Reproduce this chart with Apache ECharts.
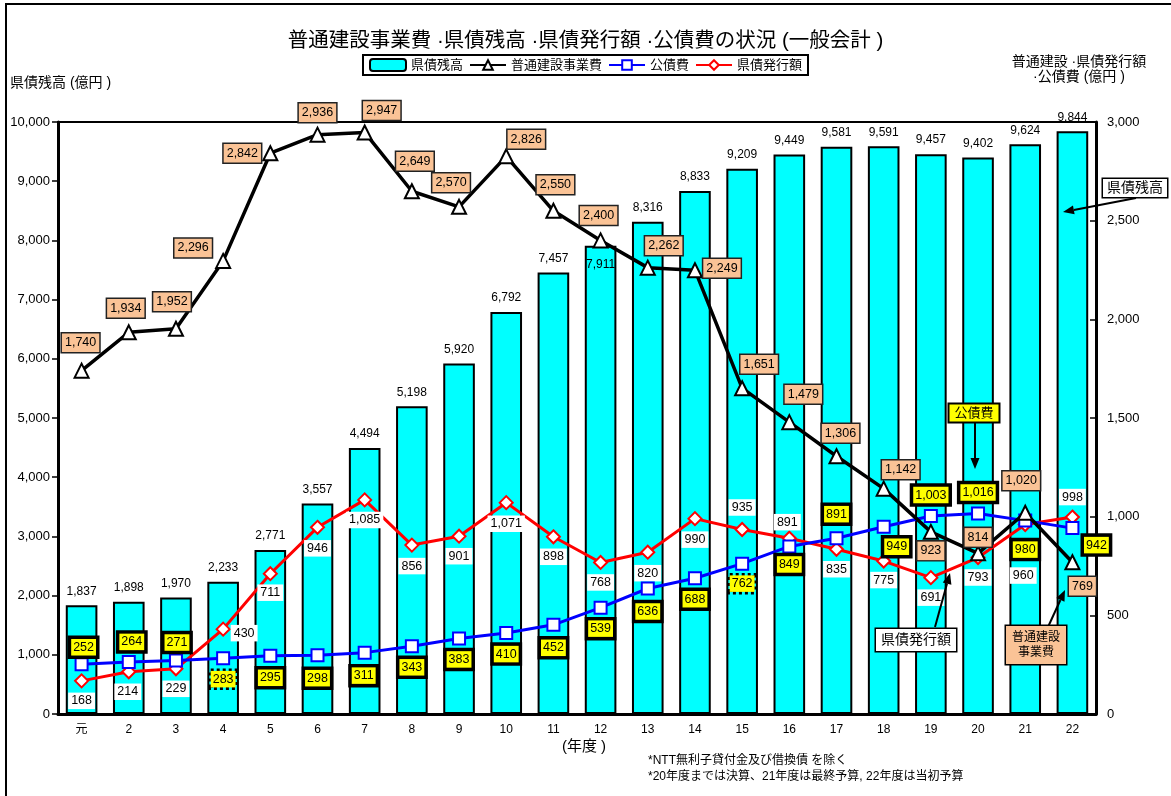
<!DOCTYPE html>
<html><head><meta charset="utf-8">
<script src="https://cdn.jsdelivr.net/npm/echarts@6/dist/echarts.min.js"></script>
<style>html,body{margin:0;padding:0;background:#fff}#c{width:1171px;height:796px}</style>
</head><body><div id="c"></div>
<script>
// ---- data ----
const years = ['元','2','3','4','5','6','7','8','9','10','11','12','13','14','15','16','17','18','19','20','21','22'];
const debtBalance  = [1837,1898,1970,2233,2771,3557,4494,5198,5920,6792,7457,7911,8316,8833,9209,9449,9581,9591,9457,9402,9624,9844];
const construction = [1740,1934,1952,2296,2842,2936,2947,2649,2570,2826,2550,2400,2262,2249,1651,1479,1306,1142,923,814,1020,769];
const bondService  = [252,264,271,283,295,298,311,343,383,410,452,539,636,688,762,849,891,949,1003,1016,980,942];
const bondIssue    = [168,214,229,430,711,946,1085,856,901,1071,898,768,820,990,935,891,835,775,691,793,960,998];
const leftAxisRange  = [0, 10000, 1000];
const rightAxisRange = [0, 3000, 500];

// ---- label placement (pixel offsets from each point) ----
const constructionLabelOffset = [[-1,-28],[-3,-24],[-4,-27],[-30,-13],[-28,0],[0,-22],[17,-22],[3,-30],[-8,-24],[20,-17],[2,-26],[-2,-25],[16,-22],[27,-2],[17,-24],[14,-28],[4,-23],[17,-19],[0,19],[0,-16],[-4,-32],[10,24]];
const bondServiceLabelOffset = [[2,-17],[3,-20],[1,-18],[0,21],[0,22],[0,23],[-1,23],[0,21],[0,21],[0,21],[0,23],[0,21],[0,23],[0,21],[0,20],[0,18],[0,-24],[13,20],[0,-21],[0,-21],[0,29],[24,17]];
const bondServiceDashed = [3,14];
const bondIssueLabelOffset = [[0,20],[-1,20],[0,20],[21,4],[0,19],[0,21],[0,20],[0,21],[0,20],[0,21],[0,20],[0,20],[0,21],[0,21],[0,-22],[-2,-16],[0,20],[0,19],[0,20],[0,20],[-2,51],[0,-20]];
const balanceInsideIdx = [11];

const FONT = '"Liberation Sans", Arial, "Noto Sans CJK JP", sans-serif';
const comma = v => String(v).replace(/\B(?=(\d{3})+(?!\d))/g, ',');

function arrow(x1, y1, x2, y2) {
  const ang = Math.atan2(y2 - y1, x2 - x1), L = 11, W = 4.5;
  const bx = x2 - L * Math.cos(ang), by = y2 - L * Math.sin(ang);
  const px = -Math.sin(ang) * W, py = Math.cos(ang) * W;
  return [
    {type:'line', z:100, shape:{x1, y1, x2:bx, y2:by}, style:{stroke:'#000', lineWidth:2}},
    {type:'polygon', z:100, shape:{points:[[x2,y2],[bx+px,by+py],[bx-px,by-py]]}, style:{fill:'#000'}}
  ];
}
function box(text, x, y, opt) {
  return Object.assign({type:'text', z:101, x, y, style:Object.assign({
    text, fontFamily:FONT, fontSize:14, fill:'#000', align:'center', verticalAlign:'middle',
    backgroundColor:'#fff', borderColor:'#000', borderWidth:1.5, padding:[3,5]
  }, opt || {})});
}

const chart = echarts.init(document.getElementById('c'), null, {renderer:'canvas'});
const option = {
  animation:false,
  textStyle:{fontFamily:FONT},
  title:{
    text:'普通建設事業費 ·県債残高 ·県債発行額 ·公債費の状況 (一般会計 )',
    left:'center', top:26,
    textStyle:{fontFamily:FONT, fontSize:20.5, fontWeight:'normal', color:'#000'}
  },
  legend:{
    top:55, left:'center',
    borderColor:'#000', borderWidth:2, padding:[3,6], itemGap:6,
    itemWidth:36, itemHeight:12,
    textStyle:{fontFamily:FONT, fontSize:13, color:'#000'},
    data:['県債残高','普通建設事業費','公債費','県債発行額']
  },
  grid:{left:58, right:75, top:122, bottom:82, show:true, borderColor:'#000', borderWidth:2, containLabel:false},
  xAxis:{
    type:'category', data:years, boundaryGap:true,
    axisLine:{lineStyle:{color:'#000', width:3}},
    axisTick:{inside:true, length:5, lineStyle:{color:'#000', width:1.5}},
    axisLabel:{color:'#000', fontSize:12, margin:10, interval:0, fontFamily:FONT}
  },
  yAxis:[
    {type:'value', min:leftAxisRange[0], max:leftAxisRange[1], interval:leftAxisRange[2],
     axisLine:{show:true, lineStyle:{color:'#000', width:3}},
     axisTick:{show:true, length:6, lineStyle:{color:'#000', width:1.5}},
     axisLabel:{color:'#000', fontSize:13, margin:8, formatter:comma, fontFamily:FONT},
     splitLine:{show:false}},
    {type:'value', min:rightAxisRange[0], max:rightAxisRange[1], interval:rightAxisRange[2], position:'right',
     axisLine:{show:true, lineStyle:{color:'#000', width:3}},
     axisTick:{show:true, inside:true, length:6, lineStyle:{color:'#000', width:1.5}},
     axisLabel:{color:'#000', fontSize:13, margin:11, formatter:comma, fontFamily:FONT},
     splitLine:{show:false}}
  ],
  series:[
    {
      name:'県債残高', type:'bar', yAxisIndex:0, barWidth:'67%', z:2,
      itemStyle:{color:'#00FFFF', borderColor:'#000', borderWidth:2},
      label:{show:true, position:'top', distance:8, color:'#000', fontSize:12, fontFamily:FONT,
             formatter:p => comma(p.value)},
      data:debtBalance.map((v,i) => balanceInsideIdx.includes(i)
        ? {value:v, label:{position:'insideTop', distance:13}} : v)
    },
    {
      name:'普通建設事業費', type:'line', yAxisIndex:1, z:5,
      symbol:'triangle', symbolSize:14,
      lineStyle:{color:'#000', width:3.5},
      itemStyle:{color:'#fff', borderColor:'#000', borderWidth:2},
      label:{show:true, position:'inside', color:'#000', fontSize:12.5, fontFamily:FONT,
             backgroundColor:'#FAC396', borderColor:'#222', borderWidth:1.5, padding:[4,3,2,3],
             formatter:p => comma(p.value)},
      data:construction.map((v,i) => ({value:v, label:{offset:constructionLabelOffset[i]}}))
    },
    {
      name:'公債費', type:'line', yAxisIndex:1, z:4,
      symbol:'rect', symbolSize:12,
      lineStyle:{color:'#0000FF', width:3},
      itemStyle:{color:'#fff', borderColor:'#0000FF', borderWidth:2},
      label:{show:true, position:'inside', color:'#000', fontSize:12.5, fontFamily:FONT,
             backgroundColor:'#FFFF00', borderColor:'#000', borderWidth:3.5, padding:[3,2,1,2],
             formatter:p => comma(p.value)},
      data:bondService.map((v,i) => ({value:v, label: bondServiceDashed.includes(i)
        ? {offset:bondServiceLabelOffset[i], borderType:[3,3], borderWidth:2.5, borderColor:'#000'}
        : {offset:bondServiceLabelOffset[i]}}))
    },
    {
      name:'県債発行額', type:'line', yAxisIndex:1, z:3,
      symbol:'diamond', symbolSize:13,
      lineStyle:{color:'#FF0000', width:3},
      itemStyle:{color:'#fff', borderColor:'#FF0000', borderWidth:2},
      label:{show:true, position:'inside', color:'#000', fontSize:12.5, fontFamily:FONT,
             backgroundColor:'#fff', padding:[3,3,1,3],
             formatter:p => comma(p.value)},
      data:bondIssue.map((v,i) => ({value:v, label:{offset:bondIssueLabelOffset[i]}}))
    }
  ],
  graphic:[].concat(
    [{type:'rect', shape:{x:6, y:4, width:1200, height:900}, style:{fill:'none', stroke:'#000', lineWidth:2}, silent:true}],
    [{type:'text', x:10, y:83, style:{text:'県債残高 (億円 )', fontFamily:FONT, fontSize:14, fill:'#000', verticalAlign:'middle'}}],
    [{type:'text', x:1079, y:62, style:{text:'普通建設 ·県債発行額', fontFamily:FONT, fontSize:14, fill:'#000', align:'center', verticalAlign:'middle'}}],
    [{type:'text', x:1079, y:77, style:{text:'·公債費 (億円 )', fontFamily:FONT, fontSize:14, fill:'#000', align:'center', verticalAlign:'middle'}}],
    [{type:'text', x:584, y:747, style:{text:'(年度 )', fontFamily:FONT, fontSize:15, fill:'#000', align:'center', verticalAlign:'middle'}}],
    [{type:'text', x:648, y:761, style:{text:'*NTT無利子貸付金及び借換債 を除く', fontFamily:FONT, fontSize:12, fill:'#000', verticalAlign:'middle'}}],
    [{type:'text', x:648, y:777, style:{text:'*20年度までは決算、21年度は最終予算, 22年度は当初予算', fontFamily:FONT, fontSize:12, fill:'#000', verticalAlign:'middle'}}],
    arrow(1136,198,1063,212),
    [box('県債残高', 1135, 188, {padding:[2,4]})],
    arrow(975,423,975,469),
    [box('公債費', 974, 413, {fontSize:13, backgroundColor:'#FFFF00', borderType:[4,3], borderWidth:2, padding:[2,5]})],
    arrow(935,627,950,573),
    [box('県債発行額', 916, 640, {padding:[4,5]})],
    arrow(1048,627,1065,590),
    [box('普通建設\n事業費', 1036, 645, {fontSize:12, backgroundColor:'#FAC396', padding:[4,6], lineHeight:15})]
  )
};
chart.setOption(option);
</script>
</body></html>
